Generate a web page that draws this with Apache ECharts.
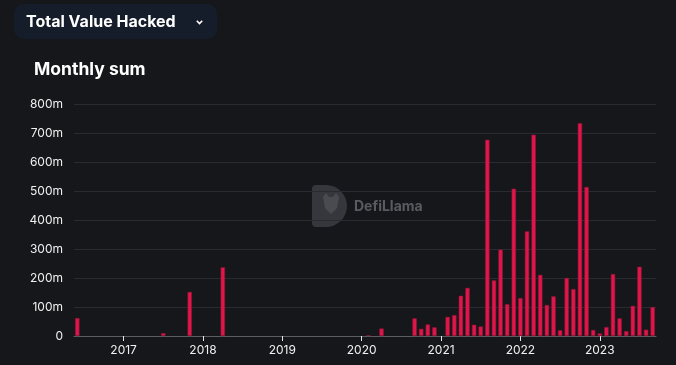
<!DOCTYPE html>
<html>
<head>
<meta charset="utf-8">
<script src="https://cdn.jsdelivr.net/npm/echarts@6/dist/echarts.min.js"></script>
<style>
html,body{margin:0;padding:0;background:#16171b;}
#chart{width:676px;height:365px;}
</style>
</head>
<body>
<div id="chart"></div>
<script>
// Monthly sum of value hacked (millions USD), Jun 2016 – Sep 2023
var startYear = 2016, startMonth = 6;
var hacks2016 = [62, 0, 0, 0, 0, 0, 0];                      // Jun–Dec
var hacks2017 = [0, 0, 0, 0, 0, 0, 10, 0, 0, 0, 152, 0];
var hacks2018 = [0, 0, 0, 237, 0, 0, 0, 0, 0, 0, 0, 0];
var hacks2019 = [0, 0, 0, 0, 0, 0, 0, 0, 0, 0, 0, 0];
var hacks2020 = [0, 3, 0, 26, 0, 0, 0, 0, 61, 25, 40, 30];
var hacks2021 = [0, 66, 72, 139, 166, 39, 33, 677, 192, 298, 110, 508];
var hacks2022 = [131, 361, 694, 211, 107, 137, 20, 200, 162, 734, 514, 21];
var hacks2023 = [9, 31, 214, 61, 17, 104, 239, 22, 100];     // Jan–Sep
var yTicks = [0, 100, 200, 300, 400, 500, 600, 700, 800];

var values = [].concat(hacks2016, hacks2017, hacks2018, hacks2019,
                       hacks2020, hacks2021, hacks2022, hacks2023);
var months = [];
for (var i = 0; i < values.length; i++) {
  var m0 = startMonth - 1 + i;
  var y = startYear + Math.floor(m0 / 12);
  var m = (m0 % 12) + 1;
  months.push(y + '-' + (m < 10 ? '0' + m : m));
}
function isJan(idx) { return months[idx].slice(5) === '01'; }
var barData = values.map(function (v) { return v === 0 ? '-' : v; });

var chart = echarts.init(document.getElementById('chart'), null, {renderer: 'canvas'});
var font = 'Inter, "Noto Sans", sans-serif';
chart.setOption({
  backgroundColor: '#16171b',
  animation: false,
  grid: {left: 74, right: 20, top: 104, bottom: 29},
  graphic: [
    {type: 'rect', shape: {x: 14, y: 4, width: 203, height: 35, r: 10},
     style: {fill: '#151d2b'}},
    {type: 'text', style: {text: 'Total Value Hacked', x: 26, y: 22, fill: '#ffffff',
      font: 'bold 16px ' + font, textVerticalAlign: 'middle'}},
    {type: 'polyline', shape: {points: [[196.8, 20.8], [199.5, 23.6], [202.2, 20.8]]},
     style: {stroke: '#ffffff', lineWidth: 1.6, fill: 'none'}},
    {type: 'text', style: {text: 'Monthly sum', x: 34, y: 70, fill: '#ffffff',
      font: 'bold 17.5px ' + font, textVerticalAlign: 'middle'}},
    {type: 'rect', z: -1, shape: {x: 312, y: 185, width: 35, height: 42, r: [4, 21, 21, 4]},
     style: {fill: '#36373c'}},
    {type: 'polygon', z: -1, shape: {points: [[323, 197], [326, 193], [329, 197], [333, 197], [336, 193], [339, 197], [337, 208], [331, 214], [325, 208]]},
     style: {fill: '#4a4b50'}},
    {type: 'text', z: -1, style: {text: 'DefiLlama', x: 354, y: 207, fill: '#5a5b60',
      font: 'bold 14px ' + font, textVerticalAlign: 'middle'}}
  ],
  xAxis: {
    type: 'category',
    data: months,
    axisLine: {lineStyle: {color: '#5c5d62', width: 1}},
    axisTick: {show: true, alignWithLabel: true, interval: function (idx) { return isJan(idx); },
      length: 5, lineStyle: {color: '#e8e8e8'}},
    axisLabel: {interval: function (idx) { return isJan(idx); },
      formatter: function (v) { return v.slice(0, 4); },
      color: '#f0f0f0', fontSize: 12, fontFamily: font, margin: 8},
    splitLine: {show: false}
  },
  yAxis: {
    type: 'value', min: yTicks[0], max: yTicks[yTicks.length - 1], interval: 100,
    axisLine: {show: false}, axisTick: {show: false},
    axisLabel: {formatter: function (v) { return v === 0 ? '0' : v + 'm'; },
      color: '#f0f0f0', fontSize: 12, fontFamily: font, margin: 11},
    splitLine: {lineStyle: {color: '#2a2b30', width: 1}}
  },
  series: [{
    type: 'bar',
    data: barData,
    barWidth: 4.4,
    itemStyle: {color: '#e0164b', borderColor: '#8a1636', borderWidth: 0.6}
  }]
});
</script>
</body>
</html>
